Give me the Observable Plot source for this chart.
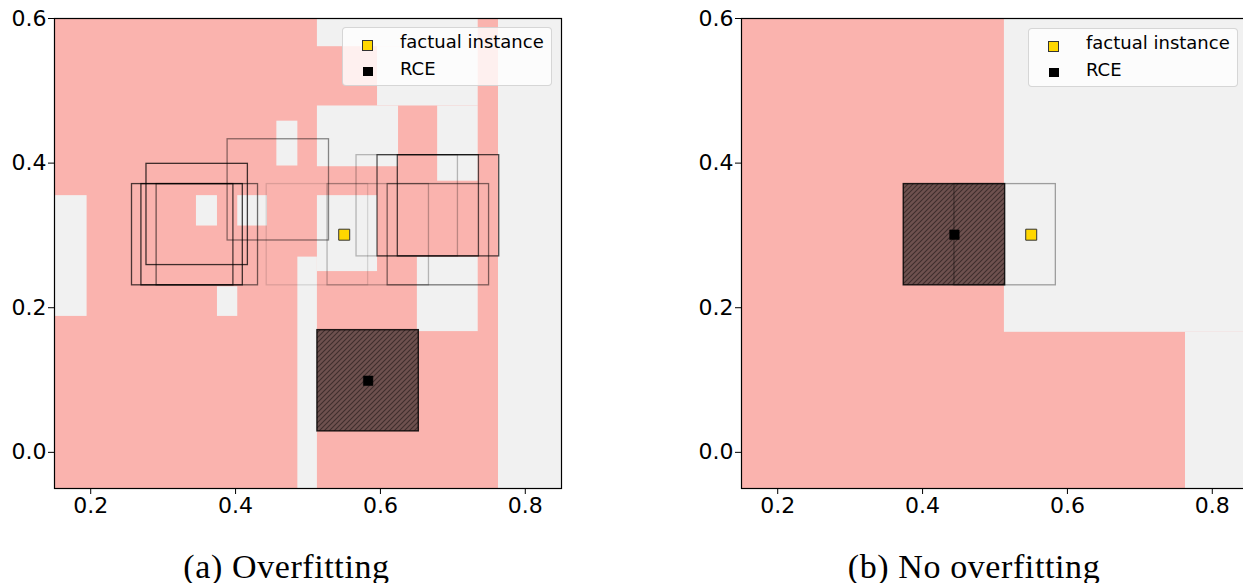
<!DOCTYPE html>
<html>
<head>
<meta charset="utf-8">
<script src="https://cdn.jsdelivr.net/npm/d3@7"></script>
<script src="https://cdn.jsdelivr.net/npm/@observablehq/plot@0.6"></script>
<style>
  body { margin: 0; background: #ffffff; }
  #fig { position: relative; width: 1243px; height: 583px; overflow: hidden; font-family: "DejaVu Sans", sans-serif; }
  .panel { position: absolute; top: 0; width: 600px; height: 530px; }
  .panel svg { max-width: none !important; }
  .legend { position: absolute; width: 208px; height: 57px; background: rgba(255,255,255,0.8);
            border: 1px solid rgba(204,204,204,0.8); border-radius: 4px; }
  .legend .mk { position: absolute; box-sizing: border-box; }
  .legend .lt { position: absolute; font-size: 18px; line-height: 18px; white-space: nowrap; color: #000; }
  .cap { position: absolute; width: 400px; text-align: center; font-family: "Liberation Serif", serif;
         font-size: 34px; line-height: 34px; letter-spacing: 0.6px; top: 550px; color: #000; white-space: nowrap; }
</style>
</head>
<body>
<div id="fig"></div>
<script>
// ---------------- data ----------------
const xDomain = [0.15, 0.85];
const yDomain = [-0.05, 0.6];
const xTicks = [0.2, 0.4, 0.6, 0.8];
const yTicks = [0.0, 0.2, 0.4, 0.6];

const captions = ["(a) Overfitting", "(b) No overfitting"];
const legendLabels = ["factual instance", "RCE"];

// factual instance (same in both panels)
const factualX = 0.550, factualY = 0.301;

// (a) overfitting: regions of the negative class (light grey) on top of the positive class
const leftGrayX1 = [0.150, 0.346, 0.403, 0.457, 0.375, 0.486, 0.513, 0.596, 0.513, 0.679, 0.513, 0.651, 0.763];
const leftGrayX2 = [0.195, 0.375, 0.444, 0.486, 0.403, 0.513, 0.735, 0.735, 0.625, 0.735, 0.596, 0.735, 0.850];
const leftGrayY1 = [0.188, 0.313, 0.313, 0.396, 0.188, -0.050, 0.561, 0.479, 0.395, 0.375, 0.250, 0.167, -0.050];
const leftGrayY2 = [0.355, 0.355, 0.355, 0.458, 0.229, 0.270, 0.600, 0.561, 0.479, 0.479, 0.355, 0.270, 0.600];
// candidate boxes (centres)
const leftBoxX = [0.347, 0.327, 0.340, 0.361, 0.459, 0.513, 0.597, 0.637, 0.666, 0.694, 0.680];
const leftBoxY = [0.329, 0.301, 0.301, 0.301, 0.363, 0.301, 0.301, 0.341, 0.341, 0.341, 0.301];
const leftBoxWeight = [0.75, 0.70, 0.75, 0.55, 0.45, 0.12, 0.25, 0.25, 0.65, 0.70, 0.50];
const leftRceX = 0.583, leftRceY = 0.099;

// (b) no overfitting
const rightGrayX1 = [0.513, 0.763];
const rightGrayX2 = [0.850, 0.850];
const rightGrayY1 = [0.166, -0.050];
const rightGrayY2 = [0.600, 0.166];
const rightBoxX = [0.514];
const rightBoxY = [0.301];
const rightBoxWeight = [0.35];
const rightRceX = 0.444, rightRceY = 0.301;

const boxHalf = 0.07;   // half side of the uncertainty box

// ---------------- drawing ----------------
const PINK = "#fab3ae";
const GRAY = "#f1f1f1";
const fmt = d3.format(".1f");

function zipRects(x1, x2, y1, y2) {
  return x1.map((d, i) => ({x1: d, x2: x2[i], y1: y1[i], y2: y2[i]}));
}
function zipBoxes(xs, ys, ws) {
  return xs.map((d, i) => ({x: d, y: ys[i], w: ws[i]}));
}

function makePanel(gray, boxes, rce, hatchId) {
  const svg = Plot.plot({
    width: 600, height: 530,
    marginLeft: 54, marginRight: 39, marginTop: 18, marginBottom: 42,
    x: {domain: xDomain},
    y: {domain: yDomain},
    style: {fontFamily: "DejaVu Sans", fontSize: "22px", color: "black", background: "transparent", overflow: "visible", maxWidth: "none"},
    marks: [
      Plot.frame({fill: PINK, stroke: "none"}),
      Plot.rect(gray, {x1: "x1", x2: "x2", y1: "y1", y2: "y2", fill: GRAY}),
      Plot.rect([rce], {
        x1: d => d.x - boxHalf, x2: d => d.x + boxHalf,
        y1: d => d.y - boxHalf, y2: d => d.y + boxHalf,
        fill: `url(#${hatchId})`, stroke: "black", strokeOpacity: 0.85, strokeWidth: 1.4
      }),
      Plot.rect(boxes, {
        x1: d => d.x - boxHalf, x2: d => d.x + boxHalf,
        y1: d => d.y - boxHalf, y2: d => d.y + boxHalf,
        fill: "none", stroke: "black", strokeOpacity: d => d.w, strokeWidth: 1.3
      }),
      Plot.dot([{x: factualX, y: factualY}], {x: "x", y: "y", symbol: "square", r: 6.2, fill: "#ffd700", stroke: "#333", strokeWidth: 1}),
      Plot.dot([rce], {x: "x", y: "y", symbol: "square", r: 5.4, fill: "black", stroke: "black", strokeWidth: 0.5}),
      Plot.axisX({ticks: xTicks, tickFormat: fmt, tickSize: 6, tickPadding: 3, label: null}),
      Plot.axisY({ticks: yTicks, tickFormat: fmt, tickSize: 6, tickPadding: 2, label: null}),
      Plot.frame({stroke: "black", strokeWidth: 1.2})
    ]
  });
  svg.querySelectorAll("g[aria-label$='tick label']").forEach(g => {
    g.setAttribute("font-size", "22");
    g.style.fontSize = "22px";
    g.style.fontFamily = "'DejaVu Sans'";
  });
  svg.querySelectorAll("text").forEach(t => {
    t.setAttribute("font-size", "22");
    t.style.fontSize = "22px";
    t.style.fontFamily = "'DejaVu Sans'";
  });
  const ns = "http://www.w3.org/2000/svg";
  const defs = document.createElementNS(ns, "defs");
  defs.innerHTML = `<pattern id="${hatchId}" patternUnits="userSpaceOnUse" width="5" height="5">
      <rect width="5" height="5" fill="#6e514f"></rect>
      <path d="M-1,1L1,-1M0,5L5,0M4,6L6,4" stroke="#3e2d2c" stroke-width="1.1"></path>
    </pattern>`;
  svg.insertBefore(defs, svg.firstChild);
  return svg;
}

function makeLegend(left, top) {
  const lg = document.createElement("div");
  lg.className = "legend";
  lg.style.left = left + "px";
  lg.style.top = top + "px";
  const m1 = document.createElement("div");
  m1.className = "mk";
  Object.assign(m1.style, {left: "19px", top: "11.5px", width: "11px", height: "11px", background: "#ffd700", border: "1px solid #333"});
  const m2 = document.createElement("div");
  m2.className = "mk";
  Object.assign(m2.style, {left: "20px", top: "38.5px", width: "9.5px", height: "9.5px", background: "#000"});
  const t1 = document.createElement("div");
  t1.className = "lt"; t1.textContent = legendLabels[0];
  Object.assign(t1.style, {left: "57px", top: "4.8px"});
  const t2 = document.createElement("div");
  t2.className = "lt"; t2.textContent = legendLabels[1];
  Object.assign(t2.style, {left: "57px", top: "31.8px"});
  lg.append(m1, m2, t1, t2);
  return lg;
}

const fig = document.getElementById("fig");

const leftSvg = makePanel(
  zipRects(leftGrayX1, leftGrayX2, leftGrayY1, leftGrayY2),
  zipBoxes(leftBoxX, leftBoxY, leftBoxWeight),
  {x: leftRceX, y: leftRceY}, "hatchA");
const leftDiv = document.createElement("div");
leftDiv.className = "panel"; leftDiv.style.left = "0px";
leftDiv.appendChild(leftSvg);
fig.appendChild(leftDiv);

const rightSvg = makePanel(
  zipRects(rightGrayX1, rightGrayX2, rightGrayY1, rightGrayY2),
  zipBoxes(rightBoxX, rightBoxY, rightBoxWeight),
  {x: rightRceX, y: rightRceY}, "hatchB");
const rightDiv = document.createElement("div");
rightDiv.className = "panel"; rightDiv.style.left = "687px";
rightDiv.appendChild(rightSvg);
fig.appendChild(rightDiv);

fig.appendChild(makeLegend(342, 27));
fig.appendChild(makeLegend(1028, 28));

const capA = document.createElement("div");
capA.className = "cap"; capA.style.left = "86.5px"; capA.textContent = captions[0];
const capB = document.createElement("div");
capB.className = "cap"; capB.style.left = "774px"; capB.textContent = captions[1];
fig.append(capA, capB);
</script>
</body>
</html>
